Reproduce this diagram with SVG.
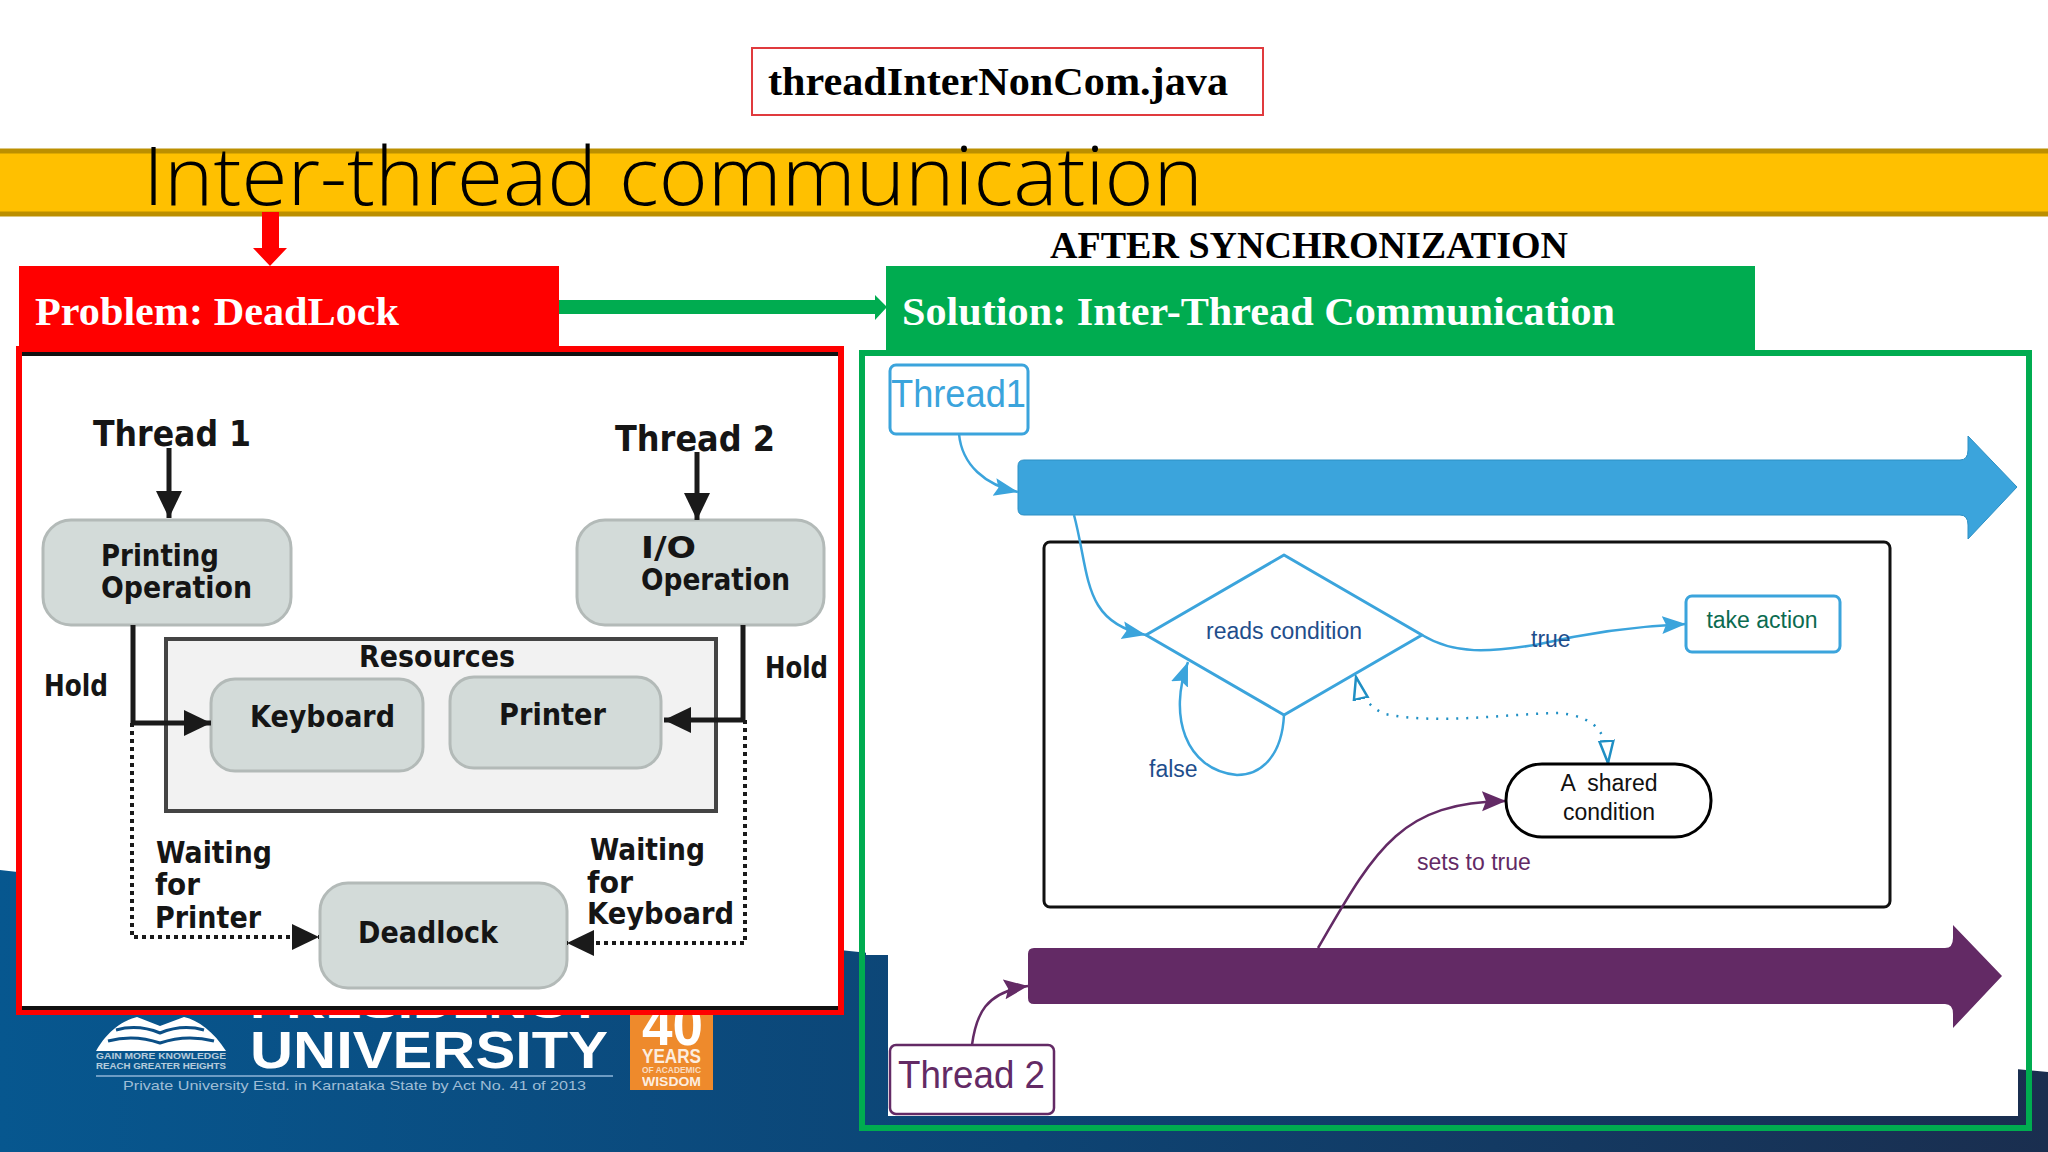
<svg xmlns="http://www.w3.org/2000/svg" width="2048" height="1152" viewBox="0 0 2048 1152">
<style>
.s{font-family:"Liberation Serif",serif;font-weight:700}
.t{font-family:"DejaVu Sans",sans-serif;font-weight:700;fill:#151515;font-size:30px}
.h{font-size:35px}
.l{font-family:"Liberation Sans",Arial,sans-serif;font-size:23px}
.m{text-anchor:middle}
.n{fill:#d3dbd9;stroke:#b3bab8;stroke-width:3}
.k{fill:none;stroke:#1a1a1a;stroke-width:5}
.d{fill:none;stroke:#1a1a1a;stroke-width:4;stroke-dasharray:4 4}
.b{fill:none;stroke:#3ba4dc;stroke-width:2.5}
.p{fill:none;stroke:#632a65;stroke-width:2.5}
.w{fill:#fff;font-family:"Liberation Sans",Arial,sans-serif}
</style>
<defs>
<linearGradient id="bg" x1="0" y1="0" x2="1" y2="0"><stop offset="0" stop-color="#07578f"/><stop offset="0.5" stop-color="#0d4474"/><stop offset="1" stop-color="#1a2e4f"/></linearGradient>
<marker id="ab" markerWidth="26" markerHeight="20" refX="24" refY="9" orient="auto" markerUnits="userSpaceOnUse"><path d="M0 0L24 9L0 18L4 9Z" fill="#3ba4dc"/></marker>
<marker id="ap" markerWidth="26" markerHeight="22" refX="24" refY="10" orient="auto" markerUnits="userSpaceOnUse"><path d="M0 0L24 10L0 20L4 10Z" fill="#632a65"/></marker>
<marker id="ah" markerWidth="26" markerHeight="20" refX="23" refY="9" orient="auto-start-reverse" markerUnits="userSpaceOnUse"><path d="M1 2L23 9L1 16Z" fill="#fff" stroke="#1f8fc4" stroke-width="2.5"/></marker>
<marker id="ak" markerWidth="30" markerHeight="30" refX="27" refY="13" orient="auto" markerUnits="userSpaceOnUse"><path d="M0 0L27 13L0 26L0 13Z" fill="#1a1a1a"/></marker>
</defs>

<rect width="2048" height="1152" fill="#fff"/>
<path id="background" d="M0 870C300 905 600 925 888 955C1300 995 1700 1040 2048 1072V1152H0Z" fill="url(#bg)"/>

<g id="logo">
<path d="M96 1051C108 1030 124 1020 137 1017L160 1026L184 1017C198 1020 214 1032 226 1051Z" fill="#fff"/>
<path d="M116 1030Q138 1024 160 1033Q182 1024 204 1030M108 1041Q134 1034 160 1043Q186 1034 214 1041" fill="none" stroke="#0b4f86" stroke-width="3"/>
<text class="w" x="96" y="1059" font-size="9" font-weight="700" textLength="130" lengthAdjust="spacingAndGlyphs" opacity=".7">GAIN MORE KNOWLEDGE</text>
<text class="w" x="96" y="1069" font-size="9" font-weight="700" textLength="130" lengthAdjust="spacingAndGlyphs" opacity=".7">REACH GREATER HEIGHTS</text>
<text class="w" x="250" y="1018" font-size="36" font-weight="700" textLength="353" lengthAdjust="spacingAndGlyphs">PRESIDENCY</text>
<text class="w" x="250" y="1068" font-size="52" font-weight="700" textLength="358" lengthAdjust="spacingAndGlyphs">UNIVERSITY</text>
<rect x="96" y="1075" width="517" height="2" fill="#6d9cc4"/>
<text x="123" y="1090" font-family="Liberation Sans,Arial,sans-serif" font-size="13" fill="#9fbdd6" textLength="463" lengthAdjust="spacingAndGlyphs">Private University Estd. in Karnataka State by Act No. 41 of 2013</text>
<rect x="630" y="1010" width="83" height="80" fill="#ee8a2c"/>
<text class="w" x="642" y="1045" font-size="58" font-weight="700" textLength="61" lengthAdjust="spacingAndGlyphs">40</text>
<text class="w" x="642" y="1063" font-size="20" font-weight="700" textLength="59" lengthAdjust="spacingAndGlyphs" opacity=".85">YEARS</text>
<text class="w" x="642" y="1073" font-size="9" font-weight="700" textLength="59" lengthAdjust="spacingAndGlyphs" opacity=".7">OF ACADEMIC</text>
<text class="w" x="642" y="1086" font-size="13" font-weight="700" textLength="59" lengthAdjust="spacingAndGlyphs" opacity=".85">WISDOM</text>
</g>

<g id="file-label">
<rect x="752" y="48" width="511" height="67" fill="#fff" stroke="#e03a3e" stroke-width="2"/>
<text class="s" x="768" y="95" font-size="41" textLength="460" lengthAdjust="spacingAndGlyphs">threadInterNonCom.java</text>
</g>

<g id="title-bar">
<rect x="-4" y="151" width="2056" height="63" fill="#ffc000" stroke="#bc8f00" stroke-width="5"/>
<text x="143" y="205" font-family="Open Sans,sans-serif" font-weight="300" font-size="82" fill="#000" textLength="1060" lengthAdjust="spacingAndGlyphs">Inter-thread communication</text>
</g>

<text id="after-label" class="s" x="1050" y="258" font-size="37" textLength="518" lengthAdjust="spacingAndGlyphs">AFTER SYNCHRONIZATION</text>

<g id="slide-connectors">
<path d="M262 212H279V248H287L270 266L253 248H262Z" fill="#f00"/>
<path d="M559 300H875V295L887 307L875 320V314H559Z" fill="#00ac50"/>
</g>

<g id="problem-header">
<rect x="19" y="266" width="540" height="84" fill="#f00"/>
<text class="s" x="35" y="325" font-size="41" fill="#fff" textLength="364" lengthAdjust="spacingAndGlyphs">Problem: DeadLock</text>
</g>
<g id="solution-header">
<rect x="886" y="266" width="869" height="86" fill="#00ac50"/>
<text class="s" x="902" y="325" font-size="41" fill="#fff" textLength="713" lengthAdjust="spacingAndGlyphs">Solution: Inter-Thread Communication</text>
</g>

<g id="deadlock-panel">
<rect x="19" y="349" width="822" height="663" fill="#fff" stroke="#f00" stroke-width="6"/>
<path d="M22 354H838M22 1008H838" stroke="#111" stroke-width="4"/>
</g>

<g id="resources"><rect x="166" y="639" width="550" height="172" fill="#f2f2f2" stroke="#444" stroke-width="4"/><text class="t" x="359" y="667" textLength="156" lengthAdjust="spacingAndGlyphs">Resources</text></g>
<g id="printing"><rect class="n" x="43" y="520" width="248" height="105" rx="28"/><text class="t" x="101" y="566" textLength="118" lengthAdjust="spacingAndGlyphs">Printing</text><text class="t" x="101" y="598" textLength="151" lengthAdjust="spacingAndGlyphs">Operation</text></g>
<g id="io"><rect class="n" x="577" y="520" width="247" height="105" rx="28"/><text class="t" x="641" y="558" textLength="55" lengthAdjust="spacingAndGlyphs">I/O</text><text class="t" x="641" y="590" textLength="149" lengthAdjust="spacingAndGlyphs">Operation</text></g>
<g id="keyboard"><rect class="n" x="211" y="679" width="212" height="92" rx="24"/><text class="t" x="250" y="727" textLength="145" lengthAdjust="spacingAndGlyphs">Keyboard</text></g>
<g id="printer"><rect class="n" x="450" y="677" width="211" height="91" rx="24"/><text class="t" x="499" y="725" textLength="107" lengthAdjust="spacingAndGlyphs">Printer</text></g>
<g id="deadlock"><rect class="n" x="320" y="883" width="247" height="105" rx="28"/><text class="t" x="358" y="943" textLength="140" lengthAdjust="spacingAndGlyphs">Deadlock</text></g>
<g id="deadlock-connectors">
<path class="k" d="M169 448V518" marker-end="url(#ak)"/>
<path class="k" d="M697 452V520" marker-end="url(#ak)"/>
<path class="k" d="M133 625V723H211" marker-end="url(#ak)"/>
<path class="k" d="M743 625V720H664" marker-end="url(#ak)"/>
<path class="d" d="M132 723V937H319" marker-end="url(#ak)"/>
<path class="d" d="M745 720V943H567" marker-end="url(#ak)"/>
</g>
<g id="deadlock-labels">
<text class="t h" x="93" y="446" textLength="158" lengthAdjust="spacingAndGlyphs">Thread 1</text>
<text class="t h" x="615" y="451" textLength="160" lengthAdjust="spacingAndGlyphs">Thread 2</text>
<text class="t" x="44" y="696" textLength="64" lengthAdjust="spacingAndGlyphs">Hold</text>
<text class="t" x="765" y="678" textLength="63" lengthAdjust="spacingAndGlyphs">Hold</text>
<text class="t" x="156" y="863" textLength="116" lengthAdjust="spacingAndGlyphs">Waiting</text>
<text class="t" x="155" y="895" textLength="45" lengthAdjust="spacingAndGlyphs">for</text>
<text class="t" x="155" y="928" textLength="106" lengthAdjust="spacingAndGlyphs">Printer</text>
<text class="t" x="590" y="860" textLength="115" lengthAdjust="spacingAndGlyphs">Waiting</text>
<text class="t" x="587" y="893" textLength="46" lengthAdjust="spacingAndGlyphs">for</text>
<text class="t" x="587" y="924" textLength="147" lengthAdjust="spacingAndGlyphs">Keyboard</text>
</g>

<g id="solution-panel">
<path d="M866 356H2026V1069H2018V1116H888V955H866Z" fill="#fff"/>
<rect x="862" y="353" width="1167" height="775" fill="none" stroke="#00ac50" stroke-width="6"/>
</g>
<g id="shared-scope"><rect x="1044" y="542" width="846" height="365" rx="6" fill="#fff" stroke="#111" stroke-width="3"/></g>
<g id="thread1-line"><path d="M1024 460H1960Q1968 460 1968 450V436L2017 487L1968 539V525Q1968 515 1960 515H1024Q1018 515 1018 509V466Q1018 460 1024 460Z" fill="#3ba4dc" stroke="#2c8fc4"/></g>
<g id="thread2-line"><path d="M1034 948H1945Q1953 948 1953 938V925L2002 976L1953 1028V1014Q1953 1004 1945 1004H1034Q1028 1004 1028 998V954Q1028 948 1034 948Z" fill="#632a65"/></g>

<g id="solution-connectors">
<path class="b" d="M959 434C962 465 985 485 1018 492" marker-end="url(#ab)"/>
<path class="b" d="M1074 515C1090 575 1082 622 1146 635" marker-end="url(#ab)"/>
<path class="b" stroke-width="3" d="M1422 635C1455 655 1490 652 1535 645C1590 632 1640 626 1686 624" marker-end="url(#ab)"/>
<path class="b" d="M1284 715C1282 755 1262 775 1237 775C1185 770 1168 715 1188 662" marker-end="url(#ab)"/>
<path d="M1608 763C1606 735 1600 718 1560 713C1500 714 1440 725 1385 714C1370 708 1360 695 1356 677" fill="none" stroke="#1f8fc4" stroke-width="2.5" stroke-dasharray="2 8" marker-start="url(#ah)" marker-end="url(#ah)"/>
<path class="p" d="M1318 948C1375 850 1400 802 1506 801" marker-end="url(#ap)"/>
<path class="p" d="M972 1045C976 1015 985 992 1028 986" marker-end="url(#ap)"/>
</g>

<g id="thread1"><rect x="890" y="365" width="138" height="69" rx="6" fill="#fff" stroke="#3ba4dc" stroke-width="3"/><text x="891" y="407" font-family="Liberation Sans,Arial,sans-serif" font-size="38" fill="#3ba4dc" textLength="135" lengthAdjust="spacingAndGlyphs">Thread1</text></g>
<g id="thread2"><rect x="890" y="1045" width="164" height="69" rx="6" fill="#fff" stroke="#632a65" stroke-width="2.5"/><text x="898" y="1088" font-family="Liberation Sans,Arial,sans-serif" font-size="38" fill="#632a65" textLength="147" lengthAdjust="spacingAndGlyphs">Thread 2</text></g>
<g id="reads-condition"><path d="M1146 635L1284 555L1422 635L1284 715Z" fill="#fff" stroke="#3ba4dc" stroke-width="3" stroke-linejoin="round"/><text class="l m" x="1284" y="639" fill="#1f4e8c">reads condition</text></g>
<g id="take-action"><rect x="1686" y="596" width="154" height="56" rx="6" fill="#fff" stroke="#3ba4dc" stroke-width="3"/><text class="l m" x="1762" y="628" fill="#0b6b50">take action</text></g>
<g id="shared-condition"><rect x="1506" y="764" width="205" height="73" rx="36" fill="#fff" stroke="#000" stroke-width="3"/><text class="l m" x="1609" y="791" fill="#111" xml:space="preserve">A  shared</text><text class="l m" x="1609" y="820" fill="#111">condition</text></g>
<g id="connector-labels">
<text class="l" x="1531" y="647" fill="#1f4e8c">true</text>
<text class="l" x="1149" y="777" fill="#1f4e8c">false</text>
<text class="l" x="1417" y="870" fill="#632a65">sets to true</text>
</g>
</svg>
